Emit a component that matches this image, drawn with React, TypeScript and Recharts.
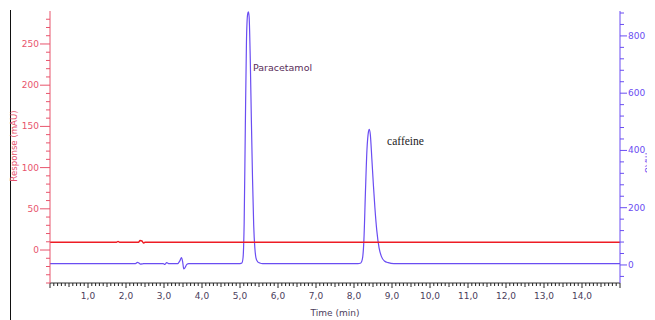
import React from 'react';
import { LineChart, Line, XAxis, YAxis, ReferenceDot } from 'recharts';

// UV trace (right axis, mAU)
const uvTimes = [
  0, 2.25, 2.3, 2.34, 2.38, 2.44, 2.5, 2.98, 3.02, 3.07, 3.12, 3.36, 3.42, 3.46, 3.49, 3.52, 3.55, 3.6, 3.65,
  5.0, 5.05, 5.08, 5.11, 5.14, 5.17, 5.2, 5.22, 5.24, 5.27, 5.3, 5.33, 5.36, 5.39, 5.42, 5.46, 5.52, 5.6,
  8.1, 8.18, 8.22, 8.26, 8.3, 8.34, 8.38, 8.4, 8.43, 8.47, 8.51, 8.55, 8.6, 8.66, 8.72, 8.8, 8.9, 9.05, 15,
];
const uvValues = [
  5, 5, 9, 7, 3, 4, 5, 5, 2, 8, 5, 5, 15, 26, 12, -14, -10, 2, 5,
  5, 7, 25, 150, 480, 780, 875, 884, 868, 720, 500, 300, 140, 60, 25, 12, 7, 5,
  5, 7, 20, 85, 250, 400, 465, 474, 455, 370, 280, 200, 120, 60, 30, 14, 8, 5, 5,
];

// response trace (left axis, mAU)
const respTimes = [0, 1.75, 1.79, 1.83, 2.33, 2.37, 2.42, 2.46, 2.5, 15];
const respValues = [9.5, 9.5, 10.5, 9.5, 9.5, 11.5, 11, 8.5, 9.5, 9.5];

const xLabelTicks = [1, 2, 3, 4, 5, 6, 7, 8, 9, 10, 11, 12, 13, 14];
const leftLabelTicks = [0, 50, 100, 150, 200, 250];
const rightLabelTicks = [0, 200, 400, 600, 800];

const uvData = uvTimes.map((t, i) => ({ t, v: uvValues[i] }));
const respData = respTimes.map((t, i) => ({ t, v: respValues[i] }));

const xTicks = Array.from({ length: 151 }, (_, i) => i / 10);
const leftTicks = Array.from({ length: 33 }, (_, i) => -40 + i * 10);
const rightTicks = Array.from({ length: 24 }, (_, i) => -40 + i * 40);

const RED_AXIS = '#e8546c';
const RED_LINE = '#ee1c24';
const BLUE = '#6a4df2';
const DARK = '#4b3d5c';
const FONT = '"DejaVu Sans", Verdana, sans-serif';

const XTick = (props: any) => {
  const { x, y, payload } = props;
  const v = payload.value;
  const major = Math.abs(v - Math.round(v)) < 1e-6;
  const half = Math.abs(v * 2 - Math.round(v * 2)) < 1e-6;
  const len = major ? 5 : half ? 4 : 3;
  const labelled = xLabelTicks.some((t) => Math.abs(t - v) < 1e-6);
  return (
    <g>
      <line x1={x} x2={x} y1={y} y2={y + len} stroke="#222" strokeWidth={1} />
      {labelled && (
        <text x={x} y={y + 16} textAnchor="middle" fontSize={9} fontFamily={FONT} fill={DARK}>
          {v.toFixed(1).replace('.', ',')}
        </text>
      )}
    </g>
  );
};

const LeftTick = (props: any) => {
  const { x, y, payload } = props;
  const labelled = leftLabelTicks.includes(payload.value);
  return (
    <g>
      <line x1={x - (labelled ? 10 : 4)} x2={x} y1={y} y2={y} stroke={RED_AXIS} strokeWidth={1} />
      {labelled && (
        <text x={x - 11} y={y + 3} textAnchor="end" fontSize={9} fontFamily={FONT} fill={RED_AXIS}>
          {payload.value}
        </text>
      )}
    </g>
  );
};

const RightTick = (props: any) => {
  const { x, y, payload } = props;
  const labelled = rightLabelTicks.includes(payload.value);
  return (
    <g>
      <line x1={x} x2={x + (labelled ? 7 : 4)} y1={y} y2={y} stroke={BLUE} strokeWidth={1} />
      {labelled && (
        <text x={x + 8} y={y + 3} textAnchor="start" fontSize={9} fontFamily={FONT} fill={BLUE}>
          {payload.value}
        </text>
      )}
    </g>
  );
};

const AxisTitle = (props: any) => {
  const { viewBox, text, side, fill } = props;
  if (!viewBox) return null;
  const { x, y, width, height } = viewBox;
  if (side === 'bottom') {
    return (
      <text x={x + width / 2} y={y + height - 4} textAnchor="middle" fontSize={9} fontFamily={FONT} fill={fill}>
        {text}
      </text>
    );
  }
  const cx = side === 'left' ? x + 6 : x + 28;
  const cy = side === 'left' ? y + height / 2 - 1 : y + height / 2 + 16;
  const angle = side === 'left' ? -90 : 90;
  return (
    <text
      x={cx}
      y={cy}
      textAnchor="middle"
      dominantBaseline="central"
      fontSize={8.6}
      fontFamily={FONT}
      fill={fill}
      transform={`rotate(${angle}, ${cx}, ${cy})`}
    >
      {text}
    </text>
  );
};

const PeakText = (props: any) => {
  const { viewBox, text, serif } = props;
  if (!viewBox) return null;
  return (
    <text
      x={viewBox.x}
      y={viewBox.y}
      dominantBaseline="central"
      fontSize={serif ? 11.5 : 9.5}
      fontFamily={serif ? '"Liberation Serif", "Times New Roman", serif' : FONT}
      fill={serif ? '#222' : '#5a2d5a'}
    >
      {text}
    </text>
  );
};

export default function App() {
  return (
    <div style={{ position: 'relative', width: 647, height: 312 }}>
      <div
        style={{
          position: 'absolute',
          left: 2,
          top: 2,
          width: 0,
          height: 310,
          borderLeft: '1px solid #111',
        }}
      />
      <LineChart width={647} height={312} margin={{ top: 3, right: 0, bottom: 0, left: 0 }}>
        <XAxis
          dataKey="t"
          type="number"
          domain={[0, 15]}
          ticks={xTicks}
          interval={0}
          tickSize={0}
          tickMargin={0}
          tickLine={false}
          tick={<XTick />}
          height={37}
          stroke="#333"
          allowDataOverflow
          label={<AxisTitle text="Time (min)" side="bottom" fill={DARK} />}
        />
        <YAxis
          yAxisId="left"
          orientation="left"
          type="number"
          domain={[-40, 290]}
          ticks={leftTicks}
          interval={0}
          tickSize={0}
          tickMargin={0}
          tickLine={false}
          tick={<LeftTick />}
          width={42}
          stroke={RED_AXIS}
          allowDataOverflow
          label={<AxisTitle text="Response (mAU)" side="left" fill={RED_AXIS} />}
        />
        <YAxis
          yAxisId="right"
          orientation="right"
          type="number"
          domain={[-63, 887]}
          ticks={rightTicks}
          interval={0}
          tickSize={0}
          tickMargin={0}
          tickLine={false}
          tick={<RightTick />}
          width={35}
          stroke={BLUE}
          allowDataOverflow
          label={<AxisTitle text="mAU" side="right" fill={BLUE} />}
        />
        <Line
          yAxisId="right"
          data={uvData}
          dataKey="v"
          type="monotone"
          stroke={BLUE}
          strokeWidth={1.2}
          dot={false}
          isAnimationActive={false}
        />
        <Line
          yAxisId="left"
          data={respData}
          dataKey="v"
          type="monotone"
          stroke={RED_LINE}
          strokeWidth={1.5}
          dot={false}
          isAnimationActive={false}
        />
        <ReferenceDot
          yAxisId="right"
          x={5.34}
          y={688}
          r={0}
          stroke="none"
          fill="none"
          label={<PeakText text="Paracetamol" />}
        />
        <ReferenceDot
          yAxisId="right"
          x={8.87}
          y={433}
          r={0}
          stroke="none"
          fill="none"
          label={<PeakText text="caffeine" serif />}
        />
      </LineChart>
    </div>
  );
}
